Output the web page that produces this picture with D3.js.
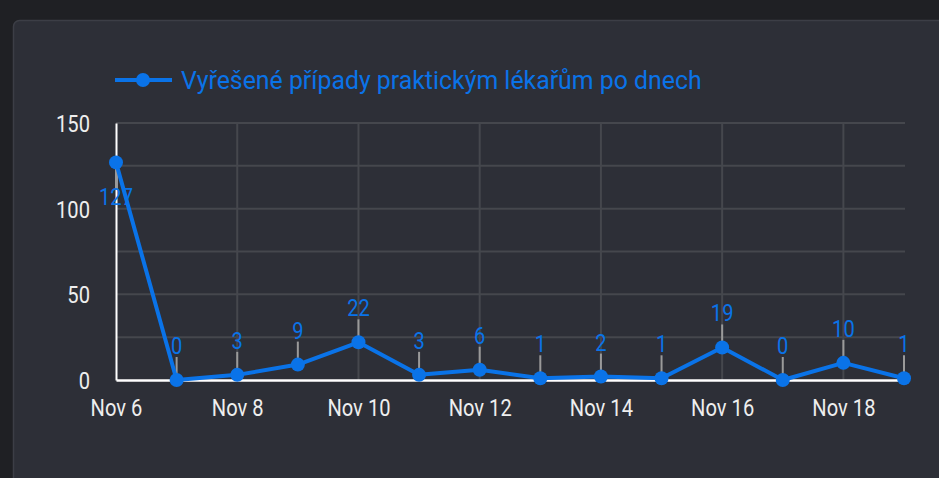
<!DOCTYPE html>
<html><head><meta charset="utf-8">
<script src="https://cdn.jsdelivr.net/npm/d3@7"></script>
<style>
html,body{margin:0;padding:0;background:#1f2024;}
svg{display:block;}
</style></head><body>
<svg id="c" width="939" height="478"></svg>
<script>
const seriesName = "Vyřešené případy praktickým lékařům po dnech";
const dates = ["2020-11-06","2020-11-07","2020-11-08","2020-11-09","2020-11-10","2020-11-11","2020-11-12","2020-11-13","2020-11-14","2020-11-15","2020-11-16","2020-11-17","2020-11-18","2020-11-19"];
const values = [127,0,3,9,22,3,6,1,2,1,19,0,10,1];
const yTicks = [0,50,100,150];
const yGrid = [0,25,50,75,100,125,150];
const xTickDates = ["2020-11-06","2020-11-08","2020-11-10","2020-11-12","2020-11-14","2020-11-16","2020-11-18"];

const parse = d3.utcParse("%Y-%m-%d");
const data = dates.map((d,i)=>({date:parse(d), v:values[i]}));
const svg = d3.select("#c");
const blue = "#0a73e8";
const font = "Roboto, sans-serif";
const sx = 0.84;

// card
svg.append("rect").attr("x",13.5).attr("y",20.5).attr("width",960).attr("height",500)
  .attr("rx",6).attr("fill","#2d2f37").attr("stroke","#3c3e46").attr("stroke-width",1.5);

const x = d3.scaleUtc().domain([data[0].date, data[data.length-1].date]).range([116,904]);
const y = d3.scaleLinear().domain([0,150]).range([380,123]);

// grid
const g = svg.append("g");
g.selectAll("line.h").data(yGrid.filter(v=>v>0)).join("line")
  .attr("x1",116).attr("x2",905).attr("y1",d=>y(d)).attr("y2",d=>y(d))
  .attr("stroke","#45474d").attr("stroke-width",2);
g.selectAll("line.v").data(xTickDates.slice(1).map(parse)).join("line")
  .attr("x1",d=>x(d)).attr("x2",d=>x(d)).attr("y1",y(150)).attr("y2",y(0))
  .attr("stroke","#45474d").attr("stroke-width",2);

// axes
const yAxis = svg.append("g").attr("transform","translate(116,0)")
  .call(d3.axisLeft(y).tickValues(yTicks).tickSize(0).tickPadding(0));
yAxis.select(".domain").attr("stroke","#fff").attr("stroke-width",2);
yAxis.selectAll(".tick text").attr("x",0).attr("dy",null)
  .attr("fill","#eeeeee").attr("font-family",font).attr("font-size",24)
  .attr("transform",`translate(-26,8.5) scale(${sx},1)`);

const xAxis = svg.append("g").attr("transform","translate(0,380)")
  .call(d3.axisBottom(x).tickValues(xTickDates.map(parse)).tickFormat(d3.utcFormat("Nov %-d")).tickSize(0).tickPadding(0));
xAxis.select(".domain").attr("stroke","#fff").attr("stroke-width",2.5);
xAxis.selectAll(".tick text").attr("y",0).attr("dy",null)
  .attr("fill","#eeeeee").attr("font-family",font).attr("font-size",24)
  .attr("transform",`translate(0,36) scale(${sx},1)`);

// leader lines + labels
const lab = svg.append("g");
data.forEach(d=>{
  const py = y(d.v);
  const below = py - 45 < 123;
  if(below){
    lab.append("line").attr("x1",x(d.date)).attr("x2",x(d.date)).attr("y1",py+4).attr("y2",py+26)
      .attr("stroke","#9a9a9a").attr("stroke-width",2);
    lab.append("text").attr("transform",`translate(${x(d.date)},${py+43}) scale(${sx},1)`)
      .attr("text-anchor","middle").attr("fill",blue).attr("font-family",font).attr("font-size",24).text(d.v);
  } else {
    lab.append("line").attr("x1",x(d.date)).attr("x2",x(d.date)).attr("y1",py-5).attr("y2",py-23)
      .attr("stroke","#9a9a9a").attr("stroke-width",2);
    lab.append("text").attr("transform",`translate(${x(d.date)},${py-26}) scale(${sx},1)`)
      .attr("text-anchor","middle").attr("fill",blue).attr("font-family",font).attr("font-size",24).text(d.v);
  }
});

// line
svg.append("path").datum(data)
  .attr("d",d3.line().x(d=>x(d.date)).y(d=>y(d.v)))
  .attr("fill","none").attr("stroke",blue).attr("stroke-width",4).attr("stroke-linejoin","round");
svg.append("g").selectAll("circle").data(data).join("circle")
  .attr("cx",d=>x(d.date)).attr("cy",d=>y(d.v)).attr("r",7).attr("fill",blue);

// legend
const leg = svg.append("g");
leg.append("line").attr("x1",115).attr("x2",172).attr("y1",80).attr("y2",80).attr("stroke",blue).attr("stroke-width",4);
leg.append("circle").attr("cx",143).attr("cy",80).attr("r",7).attr("fill",blue);
const lt = leg.append("text").attr("x",0).attr("y",0).attr("fill",blue)
  .attr("font-family",font).attr("font-size",25.5).text(seriesName);
const w = lt.node().getComputedTextLength();
lt.attr("transform",`translate(181,88.5) scale(${521/w},1)`);
</script>
</body></html>
